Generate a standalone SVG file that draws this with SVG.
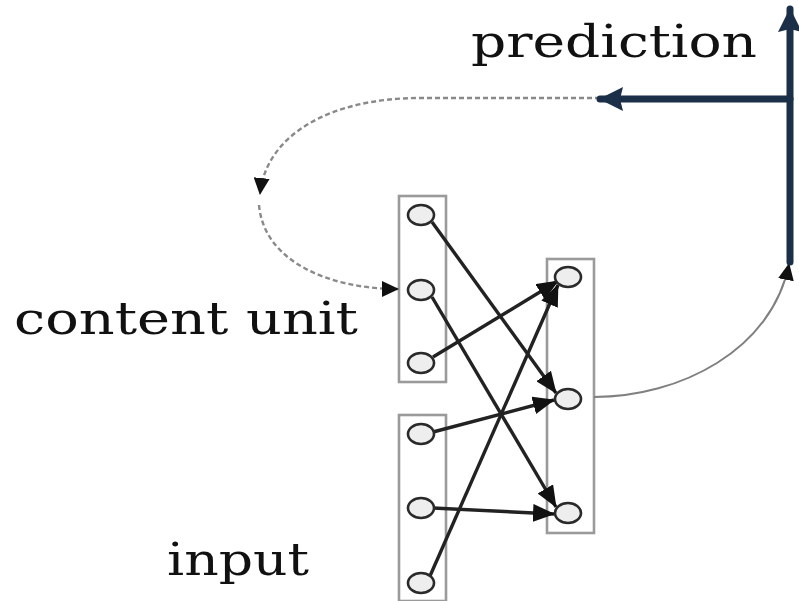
<svg xmlns="http://www.w3.org/2000/svg" width="799" height="601" viewBox="0 0 799 601">
<style>
.box{fill:#fff;stroke:#9a9a9a;stroke-width:2.6}
.node{fill:#eee;stroke:#2a2a2a;stroke-width:2.6}
.edge{fill:none;stroke:#222;stroke-width:3.4}
.dash{fill:none;stroke:#8a8a8a;stroke-width:2.4;stroke-dasharray:5 3}
.thin{fill:none;stroke:#808080;stroke-width:2}
.navy{fill:none;stroke:#1b2f48;stroke-width:7;stroke-linecap:round}
.lbl{font-family:"DejaVu Serif",serif;font-size:44px;fill:#111}
</style>
<defs>
<marker id="ah" markerUnits="userSpaceOnUse" viewBox="0 0 22 18" markerWidth="22" markerHeight="18" refX="21" refY="9" orient="auto"><path d="M0,0 L22,9 L0,18 z" fill="#111"/></marker>
<marker id="sh" markerUnits="userSpaceOnUse" viewBox="0 0 17 16" markerWidth="17" markerHeight="16" refX="16" refY="8" orient="auto"><path d="M0,0 L17,8 L0,16 z" fill="#111"/></marker>
<marker id="nh" markerUnits="userSpaceOnUse" viewBox="0 0 24 24" markerWidth="24" markerHeight="24" refX="23" refY="12" orient="auto"><path d="M0,0 L24,12 L0,24 L3,12 z" fill="#1b2f48"/></marker>
</defs>
<g id="box-context"><rect class="box" x="399" y="196" width="47" height="186"/></g>
<g id="box-input"><rect class="box" x="399" y="415" width="47" height="186"/></g>
<g id="box-hidden"><rect class="box" x="547" y="259" width="47" height="274"/></g>
<g id="connectors">
<line class="edge" x1="432" y1="222" x2="556" y2="393" marker-end="url(#ah)"/>
<line class="edge" x1="432" y1="297" x2="556" y2="507" marker-end="url(#ah)"/>
<line class="edge" x1="433" y1="357" x2="558" y2="281" marker-end="url(#ah)"/>
<line class="edge" x1="433" y1="432" x2="554" y2="400" marker-end="url(#ah)"/>
<line class="edge" x1="433" y1="508" x2="554" y2="514" marker-end="url(#ah)"/>
<line class="edge" x1="430" y1="576" x2="558" y2="285" marker-end="url(#ah)"/>
<path class="thin" d="M594,397 C680,397 772,350 789,264" marker-end="url(#sh)"/>
<path class="dash" d="M600,98 L420,98 C330,98 266,135 260,194" marker-end="url(#sh)"/>
<path class="dash" d="M259,205 C264,262 330,289 398,289" marker-end="url(#sh)"/>
<line class="navy" x1="790" y1="262" x2="790" y2="9" marker-end="url(#nh)"/>
<line class="navy" x1="790" y1="99" x2="600" y2="99" marker-end="url(#nh)"/>
</g>
<g id="n-c1"><ellipse class="node" cx="421" cy="215" rx="13" ry="10"/></g>
<g id="n-c2"><ellipse class="node" cx="421" cy="290" rx="13" ry="10"/></g>
<g id="n-c3"><ellipse class="node" cx="421" cy="363" rx="13" ry="10"/></g>
<g id="n-i1"><ellipse class="node" cx="421" cy="434" rx="13" ry="10"/></g>
<g id="n-i2"><ellipse class="node" cx="421" cy="508" rx="13" ry="10"/></g>
<g id="n-i3"><ellipse class="node" cx="421" cy="583" rx="13" ry="10"/></g>
<g id="n-h1"><ellipse class="node" cx="568" cy="277" rx="13" ry="10"/></g>
<g id="n-h2"><ellipse class="node" cx="568" cy="399" rx="13" ry="10"/></g>
<g id="n-h3"><ellipse class="node" cx="568" cy="513" rx="13" ry="10"/></g>
<g id="labels">
<text class="lbl" x="471" y="57" textLength="286" lengthAdjust="spacingAndGlyphs">prediction</text>
<text class="lbl" x="14" y="334" textLength="344" lengthAdjust="spacingAndGlyphs">content unit</text>
<text class="lbl" x="167" y="575" textLength="142" lengthAdjust="spacingAndGlyphs">input</text>
</g>
</svg>
